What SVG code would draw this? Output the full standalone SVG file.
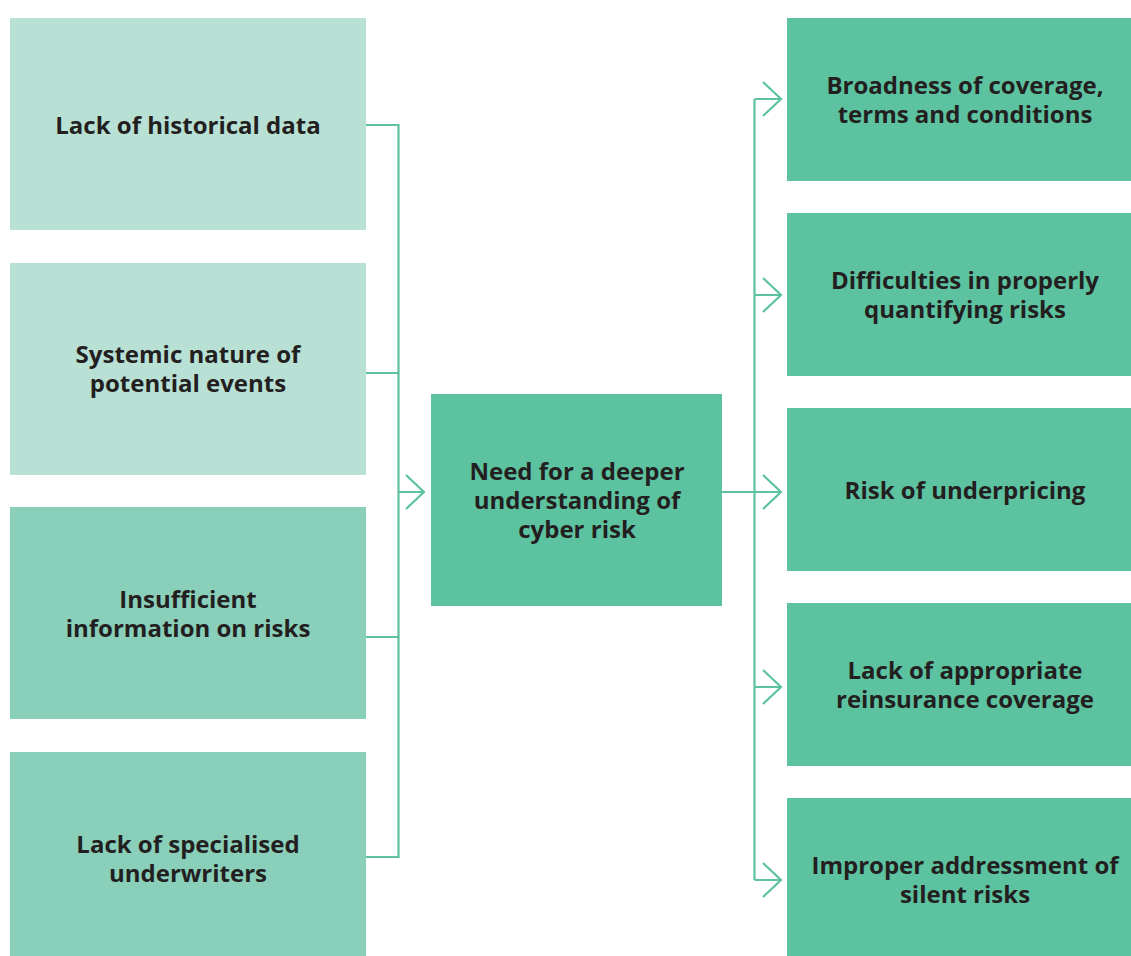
<svg xmlns="http://www.w3.org/2000/svg" width="1131" height="956" viewBox="0 0 1131 956">
<style>
.l1{fill:#B8E0D5}
.l2{fill:#8ACFBA}
.d{fill:#5DC2A0}
text{font-family:"Open Sans","Noto Sans",sans-serif;font-weight:700;font-size:24px;fill:#231F20;text-anchor:middle}
.c{fill:none;stroke:#5DC2A0;stroke-width:2.2;stroke-linecap:butt;stroke-linejoin:miter}
</style>
<rect width="1131" height="956" fill="#FFFFFF"/>
<g id="connectors" class="c">
<path d="M366 125H398.5V857H366M366 373H398.5M366 637H398.5M398.5 492H424"/>
<path d="M406 475L424 492L406 509"/>
<path d="M722 492H781M754.5 99V880M754.5 99H781M754.5 295H781M754.5 687H781M754.5 880H781"/>
<path d="M763 82L781 99L763 116M763 278L781 295L763 312M763 475L781 492L763 509M763 670L781 687L763 704M763 863L781 880L763 897"/>
</g>
<g id="n1"><rect class="l1" x="10" y="18" width="356" height="212"/><text x="188" y="134">Lack of historical data</text></g>
<g id="n2"><rect class="l1" x="10" y="263" width="356" height="212"/><text x="188" y="363">Systemic nature of</text><text x="188" y="392">potential events</text></g>
<g id="n3"><rect class="l2" x="10" y="507" width="356" height="212"/><text x="188" y="608">Insufficient</text><text x="188" y="637">information on risks</text></g>
<g id="n4"><rect class="l2" x="10" y="752" width="356" height="204"/><text x="188" y="853">Lack of specialised</text><text x="188" y="882">underwriters</text></g>
<g id="center"><rect class="d" x="431" y="394" width="291" height="212"/><text x="577" y="480">Need for a deeper</text><text x="577" y="509">understanding of</text><text x="577" y="538">cyber risk</text></g>
<g id="r1"><rect class="d" x="787" y="18" width="344" height="163"/><text x="965" y="94">Broadness of coverage,</text><text x="965" y="123">terms and conditions</text></g>
<g id="r2"><rect class="d" x="787" y="213" width="344" height="163"/><text x="965" y="289">Difficulties in properly</text><text x="965" y="318">quantifying risks</text></g>
<g id="r3"><rect class="d" x="787" y="408" width="344" height="163"/><text x="965" y="499">Risk of underpricing</text></g>
<g id="r4"><rect class="d" x="787" y="603" width="344" height="163"/><text x="965" y="679">Lack of appropriate</text><text x="965" y="708">reinsurance coverage</text></g>
<g id="r5"><rect class="d" x="787" y="798" width="344" height="158"/><text x="965" y="874">Improper addressment of</text><text x="965" y="903">silent risks</text></g>
</svg>
